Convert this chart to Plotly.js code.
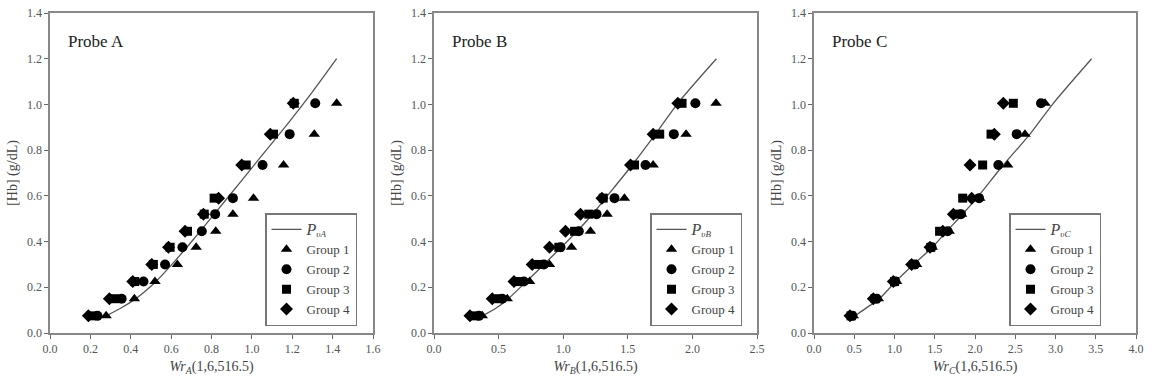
<!DOCTYPE html>
<html>
<head>
<meta charset="utf-8">
<script src="https://cdn.plot.ly/plotly-3.0.1.min.js"></script>
<style>html,body{margin:0;padding:0;background:#fff;}#chart{width:1152px;height:389px;}</style>
</head>
<body>
<div id="chart"></div>
<script>
// Hb concentration levels (g/dL)
const hbLevels = [0.075, 0.15, 0.225, 0.30, 0.375, 0.445, 0.52, 0.59, 0.735, 0.87, 1.005];

// Probe A
const A_g1 = [0.278, 0.418, 0.520, 0.631, 0.724, 0.821, 0.906, 1.008, 1.157, 1.309, 1.420];
const A_g2 = [0.235, 0.355, 0.463, 0.570, 0.656, 0.752, 0.818, 0.906, 1.053, 1.187, 1.314];
const A_g3 = [0.205, 0.322, 0.420, 0.512, 0.595, 0.681, 0.764, 0.813, 0.972, 1.107, 1.210];
const A_g4 = [0.190, 0.294, 0.410, 0.504, 0.587, 0.669, 0.760, 0.835, 0.950, 1.091, 1.205];
const A_fitX = [0.29, 0.35, 0.418, 0.47, 0.521, 0.603, 0.709, 0.82, 0.94, 1.06, 1.18, 1.30, 1.42];
const A_fitY = [0.08, 0.108, 0.146, 0.182, 0.222, 0.299, 0.408, 0.527, 0.657, 0.788, 0.918, 1.055, 1.2];

// Probe B
const B_g1 = [0.374, 0.567, 0.740, 0.894, 1.064, 1.211, 1.340, 1.474, 1.696, 1.951, 2.183];
const B_g2 = [0.348, 0.528, 0.696, 0.851, 0.979, 1.121, 1.258, 1.397, 1.637, 1.856, 2.023];
const B_g3 = [0.314, 0.503, 0.657, 0.812, 0.966, 1.088, 1.198, 1.310, 1.552, 1.747, 1.920];
const B_g4 = [0.278, 0.451, 0.619, 0.760, 0.894, 1.018, 1.134, 1.300, 1.521, 1.696, 1.887];
const B_fitX = [0.39, 0.47, 0.567, 0.709, 0.851, 0.98, 1.108, 1.22, 1.327, 1.534, 1.714, 1.887, 2.186];
const B_fitY = [0.08, 0.105, 0.146, 0.222, 0.30, 0.372, 0.445, 0.515, 0.59, 0.735, 0.87, 1.005, 1.2];

// Probe C
const C_g1 = [0.489, 0.800, 1.027, 1.275, 1.470, 1.680, 1.834, 2.060, 2.406, 2.621, 2.870];
const C_g2 = [0.476, 0.778, 1.010, 1.255, 1.460, 1.660, 1.826, 2.050, 2.290, 2.518, 2.820];
const C_g3 = [0.460, 0.758, 1.000, 1.235, 1.450, 1.560, 1.772, 1.847, 2.095, 2.199, 2.476];
const C_g4 = [0.447, 0.737, 0.985, 1.213, 1.441, 1.600, 1.731, 1.959, 1.938, 2.240, 2.352];
const C_fitX = [0.53, 0.65, 0.80, 1.006, 1.234, 1.462, 1.648, 1.834, 2.02, 2.352, 2.683, 2.973, 3.449];
const C_fitY = [0.08, 0.11, 0.146, 0.222, 0.30, 0.372, 0.445, 0.515, 0.59, 0.735, 0.87, 1.005, 1.2];

const groupNames = ['Group 1', 'Group 2', 'Group 3', 'Group 4'];
const symbols = ['triangle-up', 'circle', 'square', 'diamond'];
const sizes = [10, 10, 9, 10];

const FONT = 'Liberation Serif, Times New Roman, serif';

const panels = [
  {probe: 'A', groups: [A_g1, A_g2, A_g3, A_g4], fx: A_fitX, fy: A_fitY, xmax: 1.6, dtick: 0.2, dom: [50/1152, 373/1152]},
  {probe: 'B', groups: [B_g1, B_g2, B_g3, B_g4], fx: B_fitX, fy: B_fitY, xmax: 2.5, dtick: 0.5, dom: [434/1152, 757/1152]},
  {probe: 'C', groups: [C_g1, C_g2, C_g3, C_g4], fx: C_fitX, fy: C_fitY, xmax: 4.0, dtick: 0.5, dom: [814/1152, 1136/1152]}
];
const legendX = [265/1152, 650/1152, 1009/1152];

const traces = [];
const layout = {
  width: 1152, height: 389,
  margin: {l: 0, r: 0, t: 0, b: 0},
  paper_bgcolor: '#fff', plot_bgcolor: '#fff',
  font: {family: FONT, color: '#444', size: 12},
  annotations: []
};
const yDom = [(389-333)/389, (389-13)/389];

panels.forEach((p, i) => {
  const n = i === 0 ? '' : String(i + 1);
  const xa = 'x' + n, ya = 'y' + n;
  const leg = 'legend' + n;
  traces.push({
    x: p.fx, y: p.fy, xaxis: xa, yaxis: ya, type: 'scatter', mode: 'lines',
    line: {color: '#555', width: 1.3, shape: 'spline', smoothing: 0.8},
    name: '<span style="font-size:16px"><i>P</i></span><sub><i>υ' + p.probe + '</i></sub>', legend: leg
  });
  p.groups.forEach((g, k) => {
    traces.push({
      x: g, y: hbLevels, xaxis: xa, yaxis: ya, type: 'scatter', mode: 'markers',
      marker: {symbol: symbols[k], size: sizes[k], color: '#000'},
      name: groupNames[k], legend: leg
    });
  });
  const axCommon = {
    showgrid: false, zeroline: false, showline: true, mirror: true,
    linecolor: '#888', linewidth: 1.6, ticks: 'outside', ticklen: 4, tickwidth: 1,
    tickcolor: '#666', tickfont: {family: FONT, size: 12, color: '#555'}, tickformat: '.1f'
  };
  layout['xaxis' + n] = Object.assign({}, axCommon, {
    domain: p.dom, anchor: ya, range: [0, p.xmax], dtick: p.dtick, tick0: 0,
    title: {text: '<i>Wr</i><sub><i>' + p.probe + '</i></sub>(1,6,516.5)', font: {family: FONT, size: 14, color: '#444'}, standoff: 6}
  });
  layout['yaxis' + n] = Object.assign({}, axCommon, {
    domain: yDom, anchor: xa, range: [0, 1.4], dtick: 0.2, tick0: 0,
    title: {text: '[Hb] (g/dL)', font: {family: FONT, size: 14, color: '#444'}, standoff: 6}
  });
  layout[leg] = {
    x: legendX[i], y: 1 - 213/389, xanchor: 'left', yanchor: 'top',
    bordercolor: '#777', borderwidth: 1.5, bgcolor: '#fff',
    font: {family: FONT, size: 13, color: '#444'}, tracegroupgap: 0, itemwidth: 30
  };
  layout.annotations.push({
    text: 'Probe ' + p.probe, xref: xa + ' domain', yref: ya + ' domain',
    x: 0.05, y: 0.9125, xanchor: 'left', yanchor: 'middle', showarrow: false,
    font: {family: FONT, size: 17, color: '#222'}
  });
});

Plotly.newPlot('chart', traces, layout, {staticPlot: true, displayModeBar: false});
</script>
</body>
</html>
